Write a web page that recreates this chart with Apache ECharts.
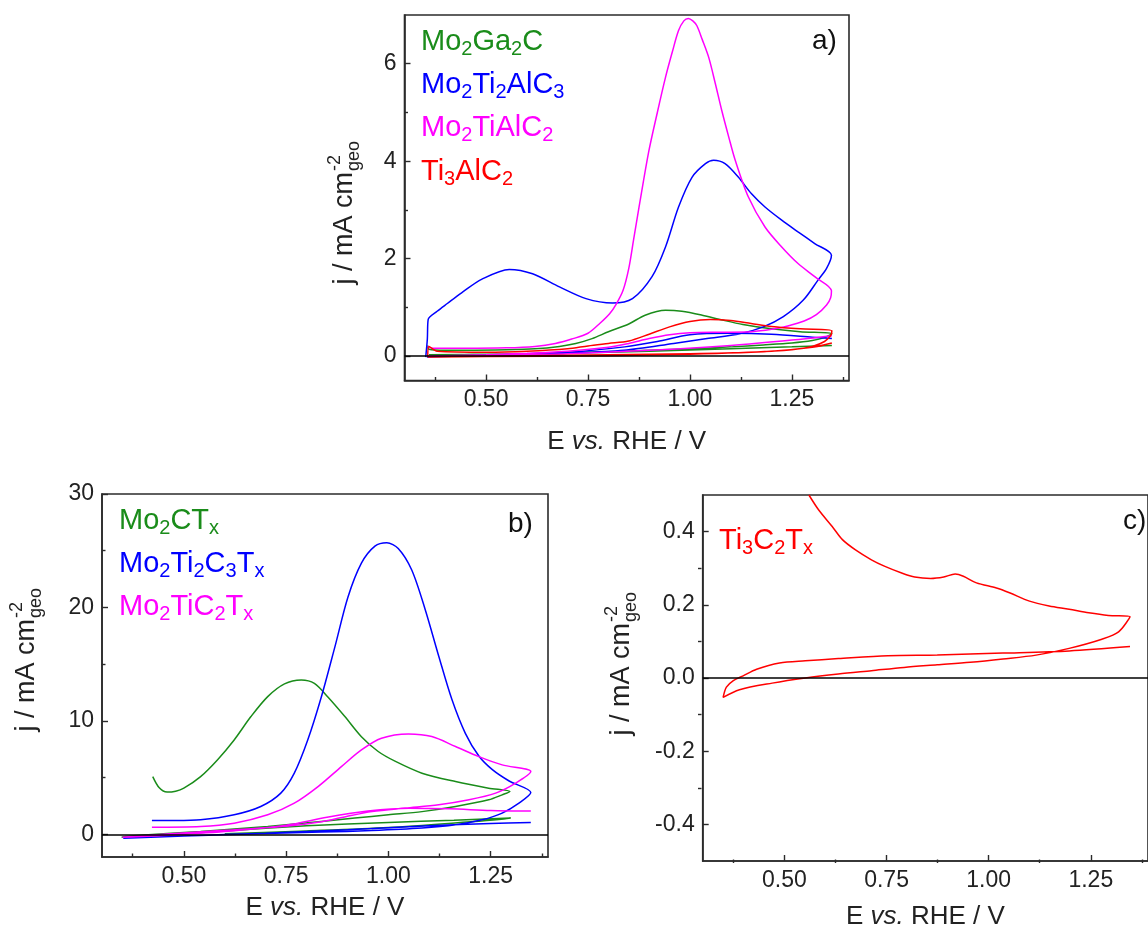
<!DOCTYPE html>
<html>
<head>
<meta charset="utf-8">
<script src="https://cdn.jsdelivr.net/npm/echarts@6.0.0/dist/echarts.min.js"></script>
<style>
html, body { margin: 0; padding: 0; background: #fff; }
#chart { width: 1148px; height: 931px; }
</style>
</head>
<body>
<div id="chart"></div>
<script>
const FONT = "'Liberation Sans', Arial, Helvetica, sans-serif"
const GREEN = '#1a8c1a'
const BLUE = '#0000ff'
const MAGENTA = '#ff00ff'
const RED = '#ff0000'
const AXIS = '#2b2b2b'

// ticks
const xMajor = [0.5, 0.75, 1.0, 1.25]
const xMinor = [0.375, 0.625, 0.875, 1.125, 1.375]
const xLabels = ['0.50', '0.75', '1.00', '1.25']
const aYMajor = [0, 2, 4, 6]
const aYMinor = [1, 3, 5]
const aYLabels = ['0', '2', '4', '6']
const bYMajor = [0, 10, 20, 30]
const bYMinor = [5, 15, 25]
const bYLabels = ['0', '10', '20', '30']
const cYMajor = [-0.4, -0.2, 0, 0.2, 0.4]
const cYMinor = [-0.3, -0.1, 0.1, 0.3]
const cYLabels = ['-0.4', '-0.2', '0.0', '0.2', '0.4']

// a) MAX phases
const aGreenE = [0.357, 0.36, 0.40, 0.45, 0.55, 0.62, 0.68, 0.72, 0.76, 0.80, 0.85, 0.89, 0.94, 0.98, 1.03, 1.08, 1.13, 1.20, 1.27, 1.348, 1.33, 1.30, 1.25, 1.18, 1.10, 1.00, 0.90, 0.80, 0.70, 0.60, 0.50, 0.40, 0.36, 0.50, 0.70, 0.90, 1.10, 1.25, 1.348]
const aGreenJ = [0.22, 0.14, 0.12, 0.12, 0.13, 0.15, 0.20, 0.26, 0.36, 0.50, 0.66, 0.84, 0.94, 0.92, 0.84, 0.74, 0.65, 0.56, 0.50, 0.46, 0.38, 0.32, 0.27, 0.23, 0.19, 0.15, 0.12, 0.09, 0.07, 0.05, 0.04, 0.03, 0.03, 0.04, 0.06, 0.10, 0.15, 0.19, 0.22]

const aBlueE = [0.352, 0.356, 0.358, 0.38, 0.405, 0.44, 0.49, 0.557, 0.614, 0.68, 0.745, 0.81, 0.859, 0.907, 0.94, 0.972, 1.005, 1.038, 1.058, 1.086, 1.119, 1.151, 1.184, 1.225, 1.265, 1.306, 1.347, 1.335, 1.314, 1.278, 1.229, 1.18, 1.123, 1.042, 0.96, 0.838, 0.70, 0.55, 0.40, 0.355, 0.50, 0.70, 0.84, 0.92, 1.00, 1.10, 1.20, 1.30, 1.348]
const aBlueJ = [-0.02, 0.35, 0.75, 0.92, 1.08, 1.30, 1.58, 1.78, 1.69, 1.42, 1.18, 1.09, 1.18, 1.63, 2.24, 3.06, 3.67, 3.95, 4.02, 3.95, 3.67, 3.33, 3.06, 2.79, 2.55, 2.31, 2.07, 1.80, 1.56, 1.15, 0.81, 0.60, 0.46, 0.36, 0.26, 0.12, 0.06, 0.02, 0.00, -0.02, 0.02, 0.08, 0.19, 0.30, 0.44, 0.47, 0.45, 0.39, 0.36]

const aPinkE = [0.357, 0.37, 0.45, 0.55, 0.62, 0.67, 0.71, 0.75, 0.78, 0.803, 0.82, 0.836, 0.85, 0.862, 0.875, 0.899, 0.92, 0.94, 0.957, 0.972, 0.985, 0.996, 1.007, 1.017, 1.03, 1.046, 1.062, 1.078, 1.095, 1.111, 1.143, 1.184, 1.225, 1.265, 1.306, 1.347,
  1.345, 1.335, 1.31, 1.28, 1.24, 1.20, 1.15, 1.08, 1.00, 0.95, 0.90, 0.85, 0.80, 0.70, 0.60, 0.50, 0.40, 0.357,
  0.50, 0.70, 0.90, 1.10, 1.25, 1.348]
const aPinkJ = [0.20, 0.16, 0.16, 0.17, 0.20, 0.26, 0.35, 0.47, 0.68, 0.87, 1.08, 1.35, 1.80, 2.40, 3.05, 4.20, 5.00, 5.72, 6.25, 6.68, 6.88, 6.93, 6.88, 6.78, 6.50, 6.13, 5.60, 5.04, 4.50, 4.02, 3.27, 2.65, 2.24, 1.90, 1.63, 1.34,
  1.20, 1.05, 0.85, 0.72, 0.62, 0.55, 0.50, 0.49, 0.48, 0.44, 0.36, 0.26, 0.18, 0.10, 0.06, 0.03, 0.01, 0.00,
  0.02, 0.05, 0.12, 0.22, 0.33, 0.42]

const aRedE = [0.357, 0.36, 0.38, 0.50, 0.60, 0.70, 0.75, 0.80, 0.85, 0.90, 0.95, 1.00, 1.05, 1.10, 1.15, 1.20, 1.27, 1.348, 1.345, 1.33, 1.30, 1.25, 1.15, 1.00, 0.80, 0.60, 0.45, 0.357, 0.50, 0.80, 1.00, 1.20, 1.30, 1.348]
const aRedJ = [-0.02, 0.20, 0.10, 0.08, 0.10, 0.15, 0.21, 0.26, 0.31, 0.45, 0.60, 0.71, 0.75, 0.73, 0.67, 0.61, 0.56, 0.52, 0.42, 0.30, 0.20, 0.13, 0.08, 0.05, 0.03, 0.01, -0.01, -0.02, -0.01, 0.01, 0.04, 0.10, 0.18, 0.27]

// b) MXenes
const bGreenE = [0.424, 0.44, 0.459, 0.48, 0.50, 0.541, 0.582, 0.623, 0.664, 0.705, 0.746, 0.787, 0.819, 0.852, 0.893, 0.934, 0.975, 1.016, 1.082, 1.164, 1.245, 1.297,
  1.278, 1.245, 1.164, 1.082, 1.00, 0.918, 0.836, 0.705, 0.541, 0.377, 0.348,
  0.45, 0.60, 0.80, 1.00, 1.16, 1.299,
  1.27, 1.20, 1.00, 0.80, 0.60]
const bGreenJ = [5.09, 4.10, 3.72, 3.80, 4.07, 5.09, 6.56, 8.32, 10.38, 12.14, 13.26, 13.60, 13.30, 12.10, 10.40, 8.60, 7.30, 6.45, 5.39, 4.65, 4.07, 3.77,
  3.48, 3.04, 2.45, 2.00, 1.72, 1.43, 1.13, 0.69, 0.25, -0.13, -0.25,
  -0.05, 0.30, 0.75, 1.05, 1.25, 1.43,
  1.30, 1.10, 0.60, 0.30, 0.05]

const bBlueE = [0.422, 0.48, 0.541, 0.623, 0.688, 0.737, 0.77, 0.803, 0.836, 0.869, 0.901, 0.934, 0.967, 0.996, 1.024, 1.057, 1.09, 1.123, 1.155, 1.188, 1.221, 1.254, 1.295, 1.348,
  1.319, 1.278, 1.229, 1.164, 1.082, 0.959, 0.836, 0.70, 0.54, 0.352,
  0.50, 0.70, 0.90, 1.10, 1.25, 1.348]
const bBlueJ = [1.22, 1.22, 1.28, 1.72, 2.45, 3.63, 5.39, 8.33, 12.1, 16.5, 20.9, 23.9, 25.4, 25.7, 25.2, 23.3, 19.8, 15.7, 11.9, 8.9, 6.9, 5.7, 4.7, 3.68,
  2.75, 1.87, 1.28, 0.84, 0.55, 0.33, 0.20, 0.08, -0.10, -0.34,
  -0.15, 0.10, 0.40, 0.75, 0.95, 1.04]

const bPinkE = [0.422, 0.541, 0.623, 0.705, 0.77, 0.828, 0.885, 0.934, 0.983, 1.049, 1.106, 1.164, 1.221, 1.278, 1.348,
  1.311, 1.262, 1.197, 1.123, 1.041, 0.96, 0.90, 0.836, 0.75, 0.60, 0.45, 0.35,
  0.45, 0.60, 0.75, 0.85, 0.95, 1.05, 1.15, 1.25, 1.348]
const bPinkJ = [0.63, 0.69, 0.98, 1.72, 2.75, 4.21, 5.97, 7.44, 8.47, 8.85, 8.62, 7.74, 6.85, 6.12, 5.53,
  4.51, 3.63, 3.04, 2.60, 2.31, 2.00, 1.60, 1.10, 0.70, 0.35, 0.00, -0.25,
  -0.10, 0.25, 0.80, 1.50, 2.05, 2.30, 2.25, 2.10, 2.05]

// c) Ti3C2Tx
const cRedE = [0.56, 0.584, 0.617, 0.642, 0.674, 0.713, 0.746, 0.787, 0.819, 0.858, 0.89, 0.918, 0.938, 0.97, 1.019, 1.051, 1.10, 1.148, 1.197, 1.245, 1.293, 1.346,
  1.318, 1.277, 1.197, 1.116, 1.035, 0.955, 0.874, 0.793, 0.713, 0.632, 0.551, 0.47, 0.39, 0.35,
  0.358, 0.375, 0.399, 0.432, 0.488, 0.551, 0.632, 0.753, 0.874, 1.035, 1.197, 1.346]
const cRedJ = [0.50, 0.459, 0.414, 0.378, 0.35, 0.323, 0.305, 0.287, 0.276, 0.272, 0.276, 0.284, 0.278, 0.26, 0.246, 0.233, 0.21, 0.197, 0.188, 0.178, 0.171, 0.168,
  0.126, 0.106, 0.081, 0.0625, 0.052, 0.043, 0.036, 0.029, 0.02, 0.011, 0.0, -0.014, -0.032, -0.053,
  -0.025, -0.007, 0.006, 0.024, 0.041, 0.047, 0.053, 0.061, 0.063, 0.068, 0.074, 0.086]

const grids = [
  {left: 404.5, top: 15, width: 444.5, height: 365.5},
  {left: 102, top: 494, width: 446, height: 363},
  {left: 702.7, top: 495, width: 450, height: 368}
]

function pickLabel(majors, labels) {
  return function (v) {
    const k = majors.findIndex(m => Math.abs(m - v) < 1e-6)
    return k < 0 ? '' : labels[k]
  }
}

function majorX(i, gap) {
  return {
    gridIndex: i, type: 'value', min: 0.3, max: 1.39, position: 'bottom',
    axisLine: {show: true, onZero: false, lineStyle: {color: AXIS, width: 1.6}},
    axisTick: {show: true, inside: true, length: 6, customValues: xMajor, lineStyle: {color: AXIS, width: 1.4}},
    axisLabel: {customValues: xMajor, formatter: pickLabel(xMajor, xLabels), fontSize: 23, color: '#222', fontFamily: FONT, margin: 8},
    splitLine: {show: false},
    name: 'E {i|vs.} RHE / V', nameLocation: 'middle', nameGap: gap,
    nameTextStyle: {fontSize: 26, color: '#222', fontFamily: FONT, rich: {i: {fontSize: 26, fontStyle: 'italic', color: '#222', fontFamily: FONT}}}
  }
}

// the second x axis goes to the top, so it is pulled down onto the bottom edge
function minorX(i) {
  return {
    gridIndex: i, type: 'value', min: 0.3, max: 1.39, position: 'top', offset: -grids[i].height,
    axisLine: {show: false, onZero: false},
    axisTick: {show: true, inside: false, length: 3.5, customValues: xMinor, lineStyle: {color: AXIS, width: 1.4}},
    axisLabel: {show: false}, splitLine: {show: false}
  }
}

function majorY(i, min, max, vals, labels) {
  return {
    gridIndex: i, type: 'value', min: min, max: max, position: 'left',
    axisLine: {show: true, onZero: false, lineStyle: {color: AXIS, width: 1.6}},
    axisTick: {show: true, inside: true, length: 6, customValues: vals, lineStyle: {color: AXIS, width: 1.4}},
    axisLabel: {customValues: vals, formatter: pickLabel(vals, labels), fontSize: 23, color: '#222', fontFamily: FONT, margin: 8},
    splitLine: {show: false}
  }
}

// same trick for the second y axis (it lands on the right)
function minorY(i, min, max, vals) {
  return {
    gridIndex: i, type: 'value', min: min, max: max, position: 'right', offset: -grids[i].width,
    axisLine: {show: false, onZero: false},
    axisTick: {show: true, inside: false, length: 3.5, customValues: vals, lineStyle: {color: AXIS, width: 1.4}},
    axisLabel: {show: false}, splitLine: {show: false}
  }
}

const zeroLine = {
  silent: true, symbol: ['none', 'none'], label: {show: false}, animation: false,
  lineStyle: {color: '#000', width: 1.5, type: 'solid'},
  data: [{yAxis: 0}]
}

function cv(name, e, j, color, axis, withZero) {
  const s = {
    type: 'line', name: name, xAxisIndex: axis, yAxisIndex: axis,
    data: e.map((v, k) => [v, j[k]]),
    showSymbol: false, symbol: 'none', smooth: 0.3, clip: true,
    lineStyle: {color: color, width: 1.5}, itemStyle: {color: color},
    animation: false, z: 3
  }
  if (withZero) s.markLine = zeroLine
  return s
}

function legendText(x, y, text, color) {
  return {
    type: 'text', x: x, y: y, z: 10,
    style: {
      text: text, fill: color, fontSize: 29, fontFamily: FONT, lineHeight: 34,
      textAlign: 'left', textVerticalAlign: 'middle', verticalAlign: 'middle',
      rich: {s: {fontSize: 20, lineHeight: 12, verticalAlign: 'bottom', fill: color, fontFamily: FONT}}
    }
  }
}

function panelTag(x, y, text) {
  return {
    type: 'text', x: x, y: y, z: 10,
    style: {text: text, fill: '#111', fontSize: 28, fontFamily: FONT, textAlign: 'left', textVerticalAlign: 'middle', verticalAlign: 'middle'}
  }
}

function yTitle(gx, gy) {
  const base = {fill: '#222', fontFamily: FONT, textVerticalAlign: 'middle', verticalAlign: 'middle'}
  return {
    type: 'group', x: gx, y: gy, rotation: Math.PI / 2, z: 10,
    children: [
      {type: 'text', x: 0, y: 0, style: Object.assign({}, base, {text: 'j / mA cm', fontSize: 27, textAlign: 'right'})},
      {type: 'text', x: 1, y: -10, style: Object.assign({}, base, {text: '-2', fontSize: 18, textAlign: 'left'})},
      {type: 'text', x: 1, y: 9, style: Object.assign({}, base, {text: 'geo', fontSize: 18, textAlign: 'left'})}
    ]
  }
}

const option = {
  backgroundColor: '#fff',
  animation: false,
  grid: grids.map(g => Object.assign({show: true, borderColor: AXIS, borderWidth: 1.6, backgroundColor: 'transparent'}, g)),
  xAxis: [majorX(0, 48), majorX(1, 38), majorX(2, 43), minorX(0), minorX(1), minorX(2)],
  yAxis: [
    majorY(0, -0.5, 7, aYMajor, aYLabels), majorY(1, -2, 30, bYMajor, bYLabels), majorY(2, -0.5, 0.5, cYMajor, cYLabels),
    minorY(0, -0.5, 7, aYMinor), minorY(1, -2, 30, bYMinor), minorY(2, -0.5, 0.5, cYMinor)
  ],
  series: [
    cv('Mo2Ga2C', aGreenE, aGreenJ, GREEN, 0, true),
    cv('Mo2Ti2AlC3', aBlueE, aBlueJ, BLUE, 0, false),
    cv('Mo2TiAlC2', aPinkE, aPinkJ, MAGENTA, 0, false),
    cv('Ti3AlC2', aRedE, aRedJ, RED, 0, false),
    cv('Mo2CTx', bGreenE, bGreenJ, GREEN, 1, true),
    cv('Mo2Ti2C3Tx', bBlueE, bBlueJ, BLUE, 1, false),
    cv('Mo2TiC2Tx', bPinkE, bPinkJ, MAGENTA, 1, false),
    cv('Ti3C2Tx', cRedE, cRedJ, RED, 2, true)
  ],
  graphic: [
    legendText(421, 42, 'Mo{s|2}Ga{s|2}C', GREEN),
    legendText(421, 85, 'Mo{s|2}Ti{s|2}AlC{s|3}', BLUE),
    legendText(421, 128, 'Mo{s|2}TiAlC{s|2}', MAGENTA),
    legendText(421, 172, 'Ti{s|3}AlC{s|2}', RED),
    legendText(119, 521, 'Mo{s|2}CT{s|x}', GREEN),
    legendText(119, 564, 'Mo{s|2}Ti{s|2}C{s|3}T{s|x}', BLUE),
    legendText(119, 607, 'Mo{s|2}TiC{s|2}T{s|x}', MAGENTA),
    legendText(719, 541, 'Ti{s|3}C{s|2}T{s|x}', RED),
    panelTag(812, 41, 'a)'),
    panelTag(508, 524, 'b)'),
    panelTag(1123, 521, 'c)'),
    yTitle(345, 172),
    yTitle(27, 619),
    yTitle(622, 623)
  ]
}

const myChart = echarts.init(document.getElementById('chart'), null, {renderer: 'canvas'})
myChart.setOption(option)
</script>
</body>
</html>
